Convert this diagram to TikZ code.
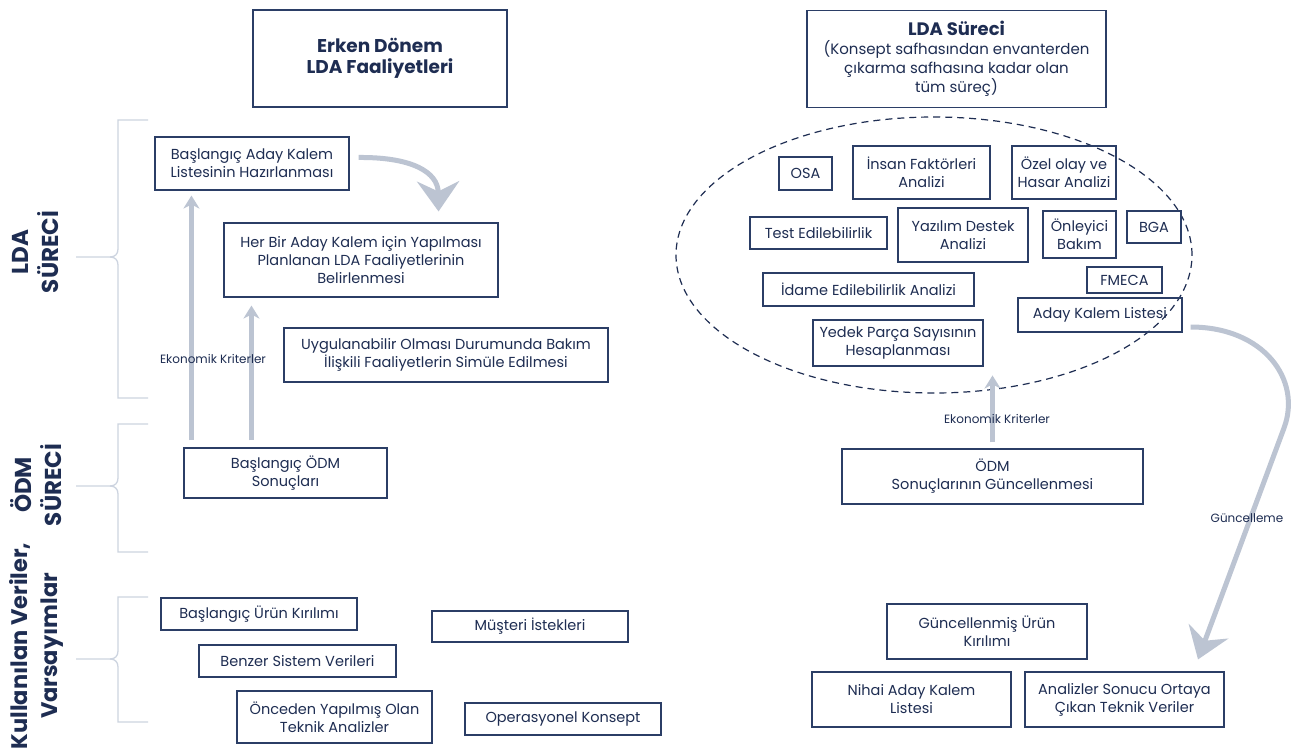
\documentclass[tikz,border=0pt]{standalone}
\usepackage{fontspec}
\setmainfont{Poppins}
\usetikzlibrary{arrows.meta,shapes.geometric}
\definecolor{navy}{HTML}{1E2D52}
\definecolor{boxline}{HTML}{2B3E66}
\definecolor{arrowgrey}{HTML}{BCC4D2}
\definecolor{bracegrey}{HTML}{CDD4E0}

% side brace: top y, middle y, bottom y
\newcommand{\sidebrace}[3]{%
  \draw[brk] (148,#1) -- (118,#1) -- (118,#2-8) .. controls (118,#2-3) and (115,#2) .. (110,#2) -- (76,#2);
  \draw[brk] (110,#2) .. controls (115,#2) and (118,#2+3) .. (118,#2+8) -- (118,#3) -- (148,#3);
}

\begin{document}
\begin{tikzpicture}[x=1pt,y=-1pt,
  box/.style={draw=boxline, line width=1.1pt, text=navy, align=center, inner sep=0pt,
              font=\fontsize{14.5}{18}\selectfont},
  wh/.style 2 args={minimum width=#1pt, minimum height=#2pt},
  titlebox/.style={draw=boxline, line width=1.1pt, text=navy, align=center, inner sep=0pt},
  flow/.style={draw=arrowgrey, line width=5pt, -{Stealth[length=13pt,width=16pt,inset=4pt]}},
  bigflow/.style={draw=arrowgrey, line width=5pt, -{Stealth[length=30pt,width=42pt,inset=10pt]}},
  note/.style={text=navy, font=\fontsize{12}{14}\selectfont, inner sep=0pt},
  side/.style={text=navy, rotate=90, align=center, font=\fontsize{23}{30}\selectfont\bfseries},
  brk/.style={draw=bracegrey, line width=1.3pt},
  cloud/.style={ellipse, draw=navy, line width=1.2pt, dash pattern=on 7pt off 5pt, inner sep=0pt}
]
\useasboundingbox[fill=white] (0,0) rectangle (1294,749);

% ---------- headings ----------
\node[titlebox, wh={254}{97}, font=\fontsize{18.5}{21}\selectfont\bfseries] (early) at (380,58.5)
  {Erken Dönem\\LDA Faaliyetleri};
\node[titlebox, wh={299}{97}, font=\fontsize{15}{19}\selectfont] (lda) at (956.5,59)
  {{\fontsize{18}{20}\selectfont\bfseries LDA Süreci}\\
   (Konsept safhasından envanterden\\
   çıkarma safhasına kadar olan\\
   tüm süreç)};

% ---------- side labels and braces ----------
\sidebrace{120}{257}{398}
\sidebrace{424}{486}{552}
\sidebrace{597}{659}{722}
\node[side] (sLDA) at (36,252) {LDA\\SÜRECİ};
\node[side] (sODM) at (36,485) {ÖDM\\SÜRECİ};
\node[side, font=\fontsize{22.5}{30}\selectfont\bfseries] (sData) at (36,646) {Kullanılan Veriler,\\Varsayımlar};

% ---------- early activities ----------
\node[box, wh={194}{53}] (a1) at (252,163.5) {Başlangıç Aday Kalem\\Listesinin Hazırlanması};
\node[box, wh={274}{74}] (a2) at (361,260) {Her Bir Aday Kalem için Yapılması\\Planlanan LDA Faaliyetlerinin\\Belirlenmesi};
\node[box, wh={324}{54}] (a3) at (446,355) {Uygulanabilir Olması Durumunda Bakım\\İlişkili Faaliyetlerin Simüle Edilmesi};
\node[box, wh={203}{50}] (a4) at (285.5,473) {Başlangıç ÖDM\\Sonuçları};

\node[box, wh={196}{32}] (b1) at (259,614) {Başlangıç Ürün Kırılımı};
\node[box, wh={196}{31}] (b2) at (530,626.5) {Müşteri İstekleri};
\node[box, wh={197}{32}] (b3) at (297.5,661) {Benzer Sistem Verileri};
\node[box, wh={195}{52}] (b4) at (334.5,717) {Önceden Yapılmış Olan\\Teknik Analizler};
\node[box, wh={196}{32}] (b5) at (563,719) {Operasyonel Konsept};

\draw[flow] ([xshift=8pt,yshift=7pt]a4.north west) -- ([xshift=37pt,yshift=-5pt]a1.south west);
\draw[flow] ([xshift=68pt,yshift=7pt]a4.north west) -- ([xshift=28pt,yshift=-8pt]a2.south west);
\draw[bigflow] ([xshift=9pt,yshift=6pt]a1.east) .. controls (412,157) and (438,172) .. ([xshift=-60pt,yshift=11pt]a2.north east);
\node[note] (ek1) at (213,359) {Ekonomik Kriterler};

% ---------- LDA process ----------
\node[cloud, wh={516}{276}] (pool) at (934,255) {};

\node[box, wh={53}{33}] (osa) at (805.5,173.5) {OSA};
\node[box, wh={137}{53}] (hf) at (921.5,172.5) {İnsan Faktörleri\\Analizi};
\node[box, wh={104}{53}] (oz) at (1064,172.5) {Özel olay ve\\Hasar Analizi};
\node[box, wh={137}{32}] (test) at (818.5,233) {Test Edilebilirlik};
\node[box, wh={130}{54}] (sw) at (963,235) {Yazılım Destek\\Analizi};
\node[box, wh={73}{47}] (pm) at (1079.5,234.5) {Önleyici\\Bakım};
\node[box, wh={54}{32}] (bga) at (1154,227) {BGA};
\node[box, wh={75}{26}] (fmeca) at (1124.5,280) {FMECA};
\node[box, wh={211}{33}] (idame) at (868.5,289.5) {İdame Edilebilirlik Analizi};
\node[box, wh={164}{34}] (akl) at (1100,315) {Aday Kalem Listesi};
\node[box, wh={170}{46}] (spare) at (898,343) {Yedek Parça Sayısının\\Hesaplanması};

\node[box, wh={301}{55}] (odm) at (992.5,476.5) {ÖDM\\Sonuçlarının Güncellenmesi};
\node[box, wh={200}{55}] (gu) at (987,631.5) {Güncellenmiş Ürün\\Kırılımı};
\node[box, wh={199}{55}] (fin) at (911.5,699.5) {Nihai Aday Kalem\\Listesi};
\node[box, wh={199}{55}] (tech) at (1124.5,699.5) {Analizler Sonucu Ortaya\\Çıkan Teknik Veriler};

\draw[flow] ([yshift=6pt]odm.north) -- ([yshift=73pt]odm.north);
\node[note] (ek2) at (997,419) {Ekonomik Kriterler};

\draw[bigflow] ([xshift=8pt,yshift=-12pt]akl.east) .. controls (1264,327) and (1302,380) .. (1284,428)
  -- ([xshift=73.5pt,yshift=12pt]tech.north);
\node[note] (upd) at (1247,518) {Güncelleme};

\end{tikzpicture}
\end{document}
